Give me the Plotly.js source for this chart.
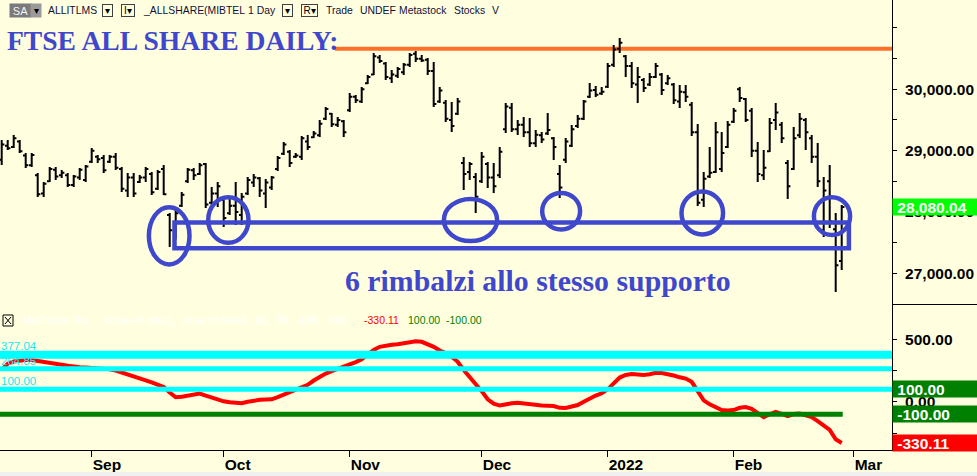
<!DOCTYPE html>
<html><head><meta charset="utf-8">
<script src="https://cdn.plot.ly/plotly-3.0.1.min.js"></script>
<style>html,body{margin:0;padding:0;background:#FFFFE0;}#chart{width:977px;height:476px;}</style>
</head><body><div id="chart"></div>
<script>
// ---- data (bar index 0 = 11 Aug 2021 ... 140 = 25 Feb 2022) ----
const monthTickIdx = [15, 37, 58, 80, 101, 122, 142];
const monthLabels = ['Sep', 'Oct', 'Nov', 'Dec', '2022', 'Feb', 'Mar'];

const opens = [28850,29080,29060,29150,28920,28760,28600,28300,28500,28690,
 28600,28600,28440,28560,28520,28820,28900,28880,28820,28900,
 28700,28350,28560,28490,28560,28620,28380,28700,27950,27700,
 28100,28500,28680,28620,28780,28150,28300,28200,27980,28100,
 27950,28300,28480,28550,28300,28400,28700,28950,28980,28900,
 28900,29150,29220,29250,29520,29600,29420,29480,29660,29880,
 29800,30100,30240,30520,30420,30180,30220,30280,30400,30580,
 30500,30480,30300,29800,29780,29500,29600,28800,28650,28570,
 28500,28780,28560,28600,29350,29700,29350,29420,29300,29120,
 29250,29280,29200,28620,28850,29080,29400,29520,29880,29990,
 29930,30040,30400,30660,30540,30380,30080,30150,30080,30200,
 30240,30100,30080,29800,29950,29750,29300,28200,28580,28650,
 28700,29060,29470,30000,29840,29650,29000,28600,28990,29500,
 29420,28800,28700,29250,29500,29200,28900,27700,28500,27720,
 27200];
const highs = [29173,29173,29255,29173,28961,28961,28635,28489,28733,28733,
 28684,28635,28603,28717,28766,29043,28929,28929,28929,28961,
 28733,28635,28635,28603,28733,28652,28684,28766,27983,28050,
 28326,28717,28717,28798,28798,28407,28489,28244,28228,28489,
 28309,28570,28620,28570,28538,28587,28912,29141,29010,28961,
 29239,29255,29320,29499,29711,29614,29548,29499,29940,29907,
 30037,30233,30592,30559,30445,30315,30364,30429,30592,30624,
 30559,30510,30445,30037,29826,29793,29858,28896,28815,28635,
 28978,28815,28798,29059,29777,29777,29499,29548,29532,29336,
 29304,29614,29222,28766,29206,29418,29581,29826,30103,30054,
 30037,30429,30722,30836,30559,30445,30364,30184,30266,30429,
 30266,30233,30103,30070,30070,29793,29434,28652,29059,29467,
 29304,29483,29695,30037,29858,29695,29141,29010,29532,29777,
 29467,28847,29385,29614,29532,29255,29124,28570,28766,27983,
 28114];
const lows = [28766,29010,29043,28961,28717,28733,28244,28244,28489,28521,
 28554,28407,28407,28521,28489,28798,28798,28635,28798,28684,
 28326,28244,28244,28472,28489,28277,28358,28277,27429,27550,
 28081,28472,28521,28603,28065,28114,28081,27755,27951,27788,
 27788,28277,28407,28244,28065,28358,28668,28929,28733,28880,
 28847,29010,29206,29222,29499,29385,29385,29222,29630,29777,
 29777,30087,30233,30429,30152,30103,30184,30233,30364,30445,
 30445,30233,29711,29777,29467,29304,29581,28358,28521,27983,
 28472,28391,28309,28554,29288,29304,29255,29222,29059,29059,
 29124,29255,28847,28228,28798,29059,29369,29499,29858,29874,
 29907,30021,30364,30592,30201,30021,29777,29956,30054,30184,
 29907,30070,29761,29695,29793,29239,28098,28081,28554,28635,
 28652,29043,29451,29793,29467,28896,28489,28521,28978,29336,
 29124,28212,28684,29206,29010,28798,28407,27592,27739,26695,
 27054];
const closes = [29100,29040,29200,28990,28760,28930,28290,28460,28700,28580,
 28640,28440,28580,28690,28740,29000,28860,28680,28900,28720,
 28380,28560,28300,28560,28700,28320,28650,28290,27700,27980,
 28280,28690,28600,28760,28120,28300,28420,27900,28100,28000,
 28250,28520,28560,28350,28480,28560,28880,29100,28800,28920,
 29200,29060,29280,29440,29680,29430,29500,29300,29880,29820,
 30000,30200,30540,30460,30200,30240,30330,30400,30560,30500,
 30470,30300,29760,29980,29520,29400,29800,28620,28780,28250,
 28900,28560,28420,28980,29720,29350,29420,29300,29120,29260,
 29180,29336,29060,28400,29150,29350,29520,29800,29980,29910,
 29960,30380,30650,30760,30380,30100,30200,30020,30200,30380,
 29990,30180,29820,29960,29880,29300,28150,28540,28640,29300,
 28960,29420,29650,29860,29500,29000,28620,28720,29450,29620,
 29200,28420,29200,29520,29300,28900,28500,28350,27850,27130,
 28080.04];
// McClellan oscillator
const osc = [255,305,322,330,334,334,328,320,312,304,
 296,288,280,276,274,272,270,266,260,250,
 236,222,206,190,172,155,140,118,75,36,
 40,48,58,66,50,32,18,4,-4,-10,
 -12,0,12,16,18,20,38,58,80,100,
 118,136,170,200,226,245,262,278,300,318,
 340,380,415,440,450,456,460,468,476,485,
 480,462,440,410,390,360,320,255,200,140,
 85,20,-15,-30,-18,-12,-8,-14,-26,-30,
 -30,-32,-34,-48,-50,-38,-26,0,26,50,
 68,100,148,194,215,222,218,214,220,232,
 230,222,210,196,186,160,90,12,-20,-42,
 -66,-70,-66,-48,-42,-56,-90,-124,-100,-80,
 -96,-114,-98,-94,-108,-122,-155,-190,-225,-300,
 -330.11];
const oscBands = [377.04, 264.85, 100.00];
const oscBandLabels = ['377.04', '264.85', '100.00'];
const oscLower = -100.00;
const resistance = 30662;
const supportTop = 27828, supportBottom = 27409;
const lastClose = 28080.04;
const lastOsc = -330.11;
const priceTicks = [27000, 27500, 28000, 28500, 29000, 29500, 30000, 30500, 31000];
const priceTickText = ['27,000.00', '', '28,000.00', '', '29,000.00', '', '30,000.00', '', ''];
const oscTicks = [-250, 0, 250, 500];
const oscTickText = ['', '0.00', '', '500.00'];

// ---- styling ----
const BG = '#FFFFE0';
const INDIGO = '#3F48CC';
const SANS = 'Liberation Sans, Arial, sans-serif';
const SERIF = 'Liberation Serif, Times New Roman, serif';
const W = 892, H = 450;
const px = v => v / W;
const py = v => (H - v) / H;
const bars = opens.map((_, i) => i);
const XMIN = -0.283, XMAX = 148.383;

const traces = [
  {type: 'ohlc', x: bars, open: opens, high: highs, low: lows, close: closes,
   xaxis: 'x', yaxis: 'y', tickwidth: 0.45, hoverinfo: 'skip',
   increasing: {line: {color: '#000', width: 2}},
   decreasing: {line: {color: '#000', width: 2}}},
  {type: 'scatter', mode: 'lines', x: bars, y: osc, xaxis: 'x', yaxis: 'y2',
   line: {color: '#FF0000', width: 4}, hoverinfo: 'skip'}
];

const shapes = [];
// resistance
shapes.push({type: 'line', xref: 'x', yref: 'y', x0: 55.55, x1: XMAX, y0: resistance, y1: resistance,
  line: {color: '#FF6F28', width: 4}, layer: 'below'});
// support rectangle
shapes.push({type: 'rect', xref: 'x', yref: 'y', x0: 28.8, x1: 141.2, y0: supportBottom, y1: supportTop,
  line: {color: INDIGO, width: 4.5}});
// bounce circles
[[24.53, 31.3, 27144, 28078], [34.42, 41.13, 27497, 28241], [73.7, 82.57, 27525, 28213],
 [90.08, 96.4, 27714, 28311], [113.3, 120.23, 27633, 28334], [135.37, 141.4, 27623, 28241]]
 .forEach(e => shapes.push({type: 'circle', xref: 'x', yref: 'y', x0: e[0], x1: e[1], y0: e[2], y1: e[3],
   line: {color: INDIGO, width: 4.5}}));
// oscillator bands
oscBands.forEach((v, i) => shapes.push({type: 'line', xref: 'x', yref: 'y2', x0: XMIN, x1: XMAX, y0: v, y1: v,
  line: {color: '#00FFFF', width: i === 0 ? 8 : 5}}));
shapes.push({type: 'line', xref: 'x', yref: 'y2', x0: XMIN, x1: 140.17, y0: oscLower, y1: oscLower,
  line: {color: '#008000', width: 5}});
// frame extras
shapes.push({type: 'line', xref: 'paper', yref: 'paper', x0: 1, x1: 977 / W, y0: py(304.5), y1: py(304.5), line: {color: '#000', width: 1}});
shapes.push({type: 'line', xref: 'paper', yref: 'paper', x0: 1, x1: 977 / W, y0: 0, y1: 0, line: {color: '#000', width: 1}});
shapes.push({type: 'rect', xref: 'paper', yref: 'paper', x0: 0, x1: 977 / W, y0: py(476), y1: py(472), fillcolor: '#F0F0F0', line: {width: 0}});
// indicator checkbox
shapes.push({type: 'rect', xref: 'paper', yref: 'paper', x0: px(3), x1: px(13), y0: py(326), y1: py(315), line: {color: '#000', width: 1}});
shapes.push({type: 'line', xref: 'paper', yref: 'paper', x0: px(5), x1: px(11), y0: py(324), y1: py(317), line: {color: '#000', width: 1}});
shapes.push({type: 'line', xref: 'paper', yref: 'paper', x0: px(5), x1: px(11), y0: py(317), y1: py(324), line: {color: '#000', width: 1}});

const ann = [];
function txt(t, x, y, size, color, extra) {
  ann.push(Object.assign({text: t, xref: 'paper', yref: 'paper', x: px(x), y: py(y), xanchor: 'left', yanchor: 'middle',
    showarrow: false, font: {family: SANS, size: size, color: color}, borderpad: 0}, extra || {}));
}
// title and comment
ann.push({text: 'FTSE ALL SHARE DAILY:', xref: 'paper', yref: 'paper', x: px(6), y: py(24), xanchor: 'left', yanchor: 'top',
  showarrow: false, borderpad: 0, font: {family: SERIF, size: 27.6, color: INDIGO, weight: 'bold'}});
ann.push({text: '6 rimbalzi allo stesso supporto', xref: 'paper', yref: 'paper', x: px(344), y: py(263), xanchor: 'left', yanchor: 'top',
  showarrow: false, borderpad: 0, font: {family: SERIF, size: 29.8, color: INDIGO, weight: 'bold'}});
// toolbar
const TB = '#101038';
const TS = 10.4;
txt('SA', 9, 10, 11, '#F4F4F4', {bgcolor: '#7A7A7A', width: 21, height: 13, align: 'center'});
txt('▾', 30, 10, 10, '#000', {bgcolor: '#9A9A9A', width: 10, height: 13, align: 'center'});
txt('ALLITLMS', 47, 10, TS, TB);
txt('▾', 102, 10, 10, '#000', {bordercolor: '#404040', borderwidth: 1, width: 9, height: 11, align: 'center'});
txt('I▾', 121, 10, 10, '#000', {bordercolor: '#404040', borderwidth: 1, width: 12, height: 11, align: 'center'});
txt('_ALLSHARE(MIBTEL', 142, 10, TS, TB);
txt('1 Day', 247, 10, TS, TB);
txt('▾', 282, 10, 10, '#000', {bordercolor: '#404040', borderwidth: 1, width: 9, height: 11, align: 'center'});
txt('R▾', 301, 10, 10, '#000', {bordercolor: '#404040', borderwidth: 1, width: 15, height: 11, align: 'center'});
txt('Trade', 325, 10, TS, TB);
txt('UNDEF', 359, 10, TS, TB);
txt('Metastock', 398, 10, TS, TB);
txt('Stocks', 453, 10, TS, TB);
txt('V', 491, 10, TS, TB);
// indicator header
txt('McClellan Osc', 22, 320, 10.5, '#FFFFFF');
txt('(close of data1,  close of data2,  19,  39,  -100,  100)', 103, 320, 10.5, '#FFFFFF');
txt(lastOsc.toFixed(2), 363, 320, 10.5, '#FF0000');
txt(oscBandLabels[2], 407, 320, 10.5, '#008000');
txt(oscLower.toFixed(2), 445, 320, 10.5, '#008000');
// band labels
txt(oscBandLabels[0], 0, 346, 11.5, '#22E6F2');
txt(oscBandLabels[1], 0, 361, 11.5, '#22E6F2');
txt(oscBandLabels[2], 0, 381, 11.5, '#22E6F2');
// right-axis value boxes
function box(t, yref, y, bg) {
  ann.push({text: '\u00a0' + t, xref: 'paper', yref: yref, x: 1, y: y, xanchor: 'left', yanchor: 'middle', showarrow: false,
    bgcolor: bg, width: 85, height: 16, align: 'left', borderpad: 0,
    font: {family: SANS, size: 15.5, color: '#FFFFFF', weight: 'bold'}});
}
box(lastClose.toLocaleString('en-US', {minimumFractionDigits: 2}), 'y', lastClose, '#00FF00');
box(oscBands[2].toFixed(2), 'y2', oscBands[2], '#008000');
box(oscLower.toFixed(2), 'y2', oscLower, '#008000');
box(lastOsc.toFixed(2), 'y2', lastOsc, '#FF0000');

const tickFont = {family: SANS, size: 15.5, color: '#000', weight: 'bold'};
const layout = {
  width: 977, height: 476,
  margin: {l: 0, r: 85, t: 0, b: 26, pad: 0},
  paper_bgcolor: BG, plot_bgcolor: BG, showlegend: false, dragmode: false,
  xaxis: {domain: [0, 1], anchor: 'y2', range: [XMIN, XMAX], tickvals: monthTickIdx, ticktext: monthLabels,
    ticks: 'outside', ticklen: 6, tickcolor: '#000', tickwidth: 1, showline: true, linecolor: '#000', linewidth: 1,
    showgrid: false, zeroline: false, tickfont: tickFont, ticklabelposition: 'outside right',
    rangeslider: {visible: false}, fixedrange: true},
  yaxis: {domain: [py(305), 1], anchor: 'x', side: 'right', range: [26483, 31456], tickvals: priceTicks, ticktext: priceTickText,
    ticks: 'outside', ticklen: 4, tickcolor: '#000', showline: true, linecolor: '#000', linewidth: 1,
    showgrid: false, zeroline: false, tickfont: tickFont, ticklabelstandoff: 5, fixedrange: true},
  yaxis2: {domain: [0, py(305)], anchor: 'x', side: 'right', range: [-385.6, 774.4], tickvals: oscTicks, ticktext: oscTickText,
    ticks: 'outside', ticklen: 4, tickcolor: '#000', showline: true, linecolor: '#000', linewidth: 1,
    showgrid: false, zeroline: false, tickfont: tickFont, ticklabelstandoff: 5, fixedrange: true},
  shapes: shapes, annotations: ann
};
Plotly.newPlot('chart', traces, layout, {displayModeBar: false, staticPlot: true});
</script></body></html>
